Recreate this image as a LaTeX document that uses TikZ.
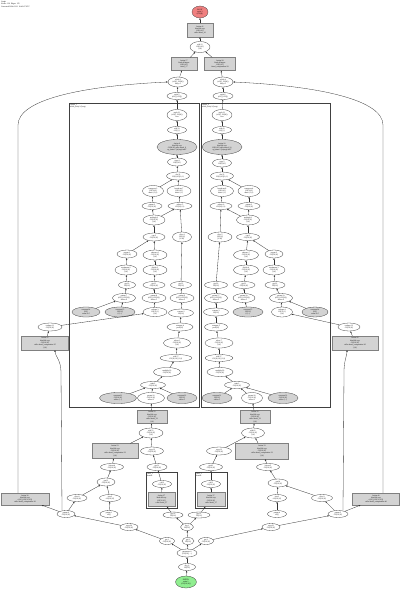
\documentclass[tikz,border=0pt]{standalone}
\usepackage{fontspec}
\setmainfont{Liberation Serif}
\usetikzlibrary{shapes.geometric,arrows.meta}
\definecolor{nred}{HTML}{F08080}
\definecolor{ngreen}{HTML}{90EE90}
\definecolor{ngray}{HTML}{D3D3D3}
\begin{document}
\begin{tikzpicture}[x=1pt,y=-1pt,
  every node/.style={font=\fontsize{1.9}{2.3}\selectfont, align=center, inner sep=0pt},
  el/.style 2 args={ellipse, draw=black!75, line width=0.3pt, minimum width=#1, minimum height=#2},
  gel/.style 2 args={ellipse, draw=black!75, fill=ngray, line width=0.3pt, minimum width=#1, minimum height=#2},
  gbox/.style 2 args={rectangle, draw=gray, fill=ngray, line width=0.3pt, minimum width=#1, minimum height=#2},
  conn/.style={draw=black!80, line width=0.3pt, -{Triangle[length=1.6pt,width=1.3pt]}},
  clus/.style={rectangle, draw=black!75, line width=0.75pt, anchor=north west},
  cllab/.style={anchor=north west, align=left}]
\fill[white] (0,0) rectangle (400,589);
\useasboundingbox (0,0) rectangle (400,589);
% header
\node[anchor=north west, align=left] (hdr) at (1,1) {Graph\\Nodes: 136 \ Edges: 152\\Generated 2024-03-11 10:42:07 UTC};
% clusters
\node[clus, minimum width=130, minimum height=304] (cl1) at (69,103) {};
\node[cllab] (cl1l) at (70,104) {cluster\_1\\while\_body.1 (loop)};
\node[clus, minimum width=129, minimum height=304] (cl2) at (201,103) {};
\node[cllab] (cl2l) at (202,104) {cluster\_2\\while\_body.2 (loop)};
\node[clus, minimum width=31, minimum height=36] (sc1) at (146,472) {};
\node[cllab] (sc1l) at (147,473) {cond\_1\\branch};
\node[clus, minimum width=32, minimum height=36] (sc2) at (195,472) {};
\node[cllab] (sc2l) at (196,473) {cond\_2\\branch};
% top
\node[el={16}{12}, fill=nred] (n1) at (200,12) {ROOT\\tuple.3\\(f32[8])};
\node[gbox={26}{14}] (n2) at (200,30) {fusion.41\\kind=kLoop\\f32[8,16]\\calls=fused\_41};
\node[el={20}{11}] (n3) at (200,47) {add.12\\f32[8,16]\\\{1,0\}};
\node[gbox={26}{13}] (n4) at (184,64) {fusion.17\\kind=kOutput\\f32[8,16]\\fused\_17};
\node[gbox={31}{13}] (n5) at (220,64) {fusion.18\\kind=kOutput\\f32[8,16]\\fused\_computation.18};
\node[el={20}{10}] (n6) at (178,82) {while.3\\(s32[], f32[8])\\body=1};
\node[el={20}{10}] (n7) at (223,82) {while.4\\(s32[], f32[8])\\body=2};
\node[el={20}{7}] (n8) at (177,96) {tuple.5\\(s32[], f32[])};
\node[el={20}{7}] (n9) at (223,96) {tuple.6\\(s32[], f32[])};
% left cluster
\node[el={20}{11}] (L1) at (177,115) {tuple.21\\(s32[], f32[8])\\root};
\node[el={19}{7}] (L2) at (177,130) {add.33\\s32[] \{\}};
\node[gel={40}{15}] (L3) at (177,147) {fusion.9\\kind=kLoop\\f32[8,16] calls=fused\_9\\op\_name="jit(step)/mul"};
\node[el={19}{8}] (L4) at (177,162) {copy.4\\f32[8,16]};
\node[el={23}{8}] (L5) at (178,176) {dot.12\\f32[8,16]\{1,0\}};
\node[el={21}{11}] (L6) at (153,191) {transpose.3\\f32[16,8]\\dims=\{1,0\}};
\node[el={24}{11}] (L7) at (179,191) {broadcast.7\\f32[8,16]\\dims=\{1\}};
\node[el={20}{7}] (L8) at (152,206) {param.2\\f32[16,16]};
\node[el={24}{7}] (L9) at (180,206) {reduce.5\\f32[16] \{0\}};
\node[el={22}{10}] (L10) at (154,220) {multiply.8\\f32[16,16]\\\{1,0\}};
\node[el={22}{8}] (L11) at (154,237) {exp.2\\f32[16,16]};
\node[el={19}{10}] (L12) at (182,237) {slice.4\\f32[16]\\{}[0:16]};
\node[el={20}{8}] (L13) at (127,254) {negate.1\\f32[16,16]};
\node[el={24}{10}] (L14) at (155,255) {subtract.6\\f32[16,16]\\\{1,0\}};
\node[el={22}{10}] (L15) at (126,270) {maximum.2\\f32[16,16]\\\{1,0\}};
\node[el={24}{10}] (L16) at (155,270) {divide.3\\f32[16,16]\\\{1,0\}};
\node[el={17}{7}] (L17) at (127,285) {gte.10\\f32[16]};
\node[el={22}{7}] (L18) at (154,285) {gte.11\\f32[16,16]};
\node[el={21}{7}] (L19) at (181,285) {gte.12\\f32[16]};
\node[el={23}{9}] (L20) at (124,298) {param.7\\(s32[], f32[16])\\index=0};
\node[el={24}{9}] (L21) at (154,298) {param.8\\(s32[], f32[16])\\index=1};
\node[el={24}{9}] (L22) at (182,298) {param.9\\(s32[], f32[16])\\index=2};
\node[gel={28}{10}] (L23) at (86,312) {constant.14\\f32[]\\value=0.5};
\node[gel={30}{10}] (L24) at (120,312) {constant.15\\f32[16]\\\{0,...\}};
\node[el={24}{9}] (L25) at (155,312) {reshape.3\\f32[16,1]\\\{1,0\}};
\node[el={25}{8}] (L26) at (181,313) {convert.2\\f32[16]};
\node[el={26}{8}] (L27) at (180,327) {compare.4\\pred[16]};
\node[el={27}{10}] (L28) at (177,343) {select.6\\f32[16,16]\\\{1,0\}};
\node[el={32}{7}] (L29) at (176,358) {add.17\\f32[16,16] \{1,0\}};
\node[el={27}{9}] (L30) at (167,372) {multiply.19\\f32[16,16]};
\node[el={25}{7}] (L31) at (153,385) {tanh.2\\f32[16,16]};
\node[gel={37}{11}] (L32) at (118,398) {constant.21\\f32[16,16]\\value=\{...\}};
\node[el={27}{11}] (L33) at (151,398) {param.10\\f32[16,16]\\index=3};
\node[gel={30}{11}] (L34) at (182,398) {constant.22\\f32[16]\\value=1};
% right cluster
\node[el={20}{11}] (R1) at (222,115) {tuple.31\\(s32[], f32[8])\\root};
\node[el={19}{7}] (R2) at (222,130) {add.43\\s32[] \{\}};
\node[gel={40}{15}] (R3) at (222,147) {fusion.10\\kind=kLoop\\f32[8,16] calls=fused\_10\\op\_name="jit(step)/add"};
\node[el={19}{8}] (R4) at (222,163) {copy.5\\f32[8,16]};
\node[el={23}{8}] (R5) at (222,176) {dot.13\\f32[8,16]\{1,0\}};
\node[el={23}{11}] (R6) at (222,191) {broadcast.8\\f32[8,16]\\dims=\{1\}};
\node[el={22}{11}] (R7) at (249,191) {transpose.4\\f32[16,8]\\dims=\{1,0\}};
\node[el={22}{7}] (R8) at (221,206) {reduce.6\\f32[16] \{0\}};
\node[el={22}{7}] (R9) at (249,206) {param.3\\f32[16,16]};
\node[el={23}{10}] (R10) at (248,220) {multiply.9\\f32[16,16]\\\{1,0\}};
\node[el={24}{10}] (R11) at (220,237) {slice.5\\f32[16]\\{}[0:16]};
\node[el={23}{7}] (R12) at (248,237) {exp.3\\f32[16,16]};
\node[el={25}{10}] (R13) at (246,255) {subtract.7\\f32[16,16]\\\{1,0\}};
\node[el={18}{8}] (R14) at (274,254) {negate.2\\f32[16,16]};
\node[el={25}{10}] (R15) at (246,270) {divide.4\\f32[16,16]\\\{1,0\}};
\node[el={22}{10}] (R16) at (274,270) {maximum.3\\f32[16,16]\\\{1,0\}};
\node[el={23}{7}] (R17) at (216,285) {gte.20\\f32[16]};
\node[el={22}{7}] (R18) at (244,285) {gte.21\\f32[16,16]};
\node[el={20}{7}] (R19) at (275,285) {gte.22\\f32[16]};
\node[el={23}{9}] (R20) at (216,298) {param.17\\(s32[], f32[16])\\index=2};
\node[el={22}{9}] (R21) at (244,298) {param.18\\(s32[], f32[16])\\index=1};
\node[el={23}{9}] (R22) at (281,298) {param.19\\(s32[], f32[16])\\index=0};
\node[el={25}{8}] (R23) at (216,312) {convert.3\\f32[16]};
\node[gel={30}{10}] (R24) at (248,312) {constant.25\\f32[16]\\\{0,...\}};
\node[el={21}{10}] (R25) at (282,312) {reshape.4\\f32[16,1]\\\{1,0\}};
\node[gel={26}{10}] (R26) at (315,312) {constant.24\\f32[]\\value=0.5};
\node[el={23}{8}] (R27) at (216,327) {compare.5\\pred[16]};
\node[el={28}{10}] (R28) at (219,343) {select.7\\f32[16,16]\\\{1,0\}};
\node[el={28}{7}] (R29) at (219,358) {add.27\\f32[16,16] \{1,0\}};
\node[el={26}{9}] (R30) at (220,372) {multiply.29\\f32[16,16]};
\node[el={25}{7}] (R31) at (237,385) {tanh.3\\f32[16,16]};
\node[gel={30}{11}] (R32) at (217,398) {constant.31\\f32[16]\\value=1};
\node[el={21}{11}] (R33) at (252,398) {param.20\\f32[16,16]\\index=3};
\node[gel={30}{11}] (R34) at (283,398) {constant.32\\f32[16,16]\\value=\{...\}};
% outer side nodes
\node[el={24}{8}] (OL1) at (50,327) {reshape.11\\f32[16,16]};
\node[gbox={47}{14}] (OL2) at (45,343) {fusion.25\\kind=kLoop\\f32[16,16]\\calls=fused\_computation.25\\\{1,0\}};
\node[el={22}{8}] (OR1) at (349,327) {reshape.12\\f32[16,16]};
\node[gbox={46}{14}] (OR2) at (355,343) {fusion.26\\kind=kLoop\\f32[16,16]\\calls=fused\_computation.26\\\{1,0\}};
% below left
\node[gbox={30}{13}] (B1) at (152,417) {fusion.22\\kind=kLoop\\f32[16,16]\\calls=fused\_22\\\{1,0\}};
\node[el={24}{10}] (B2) at (151,433) {add.51\\f32[16,16]\\\{1,0\}};
\node[gbox={46}{15}] (B3) at (115,451) {fusion.23\\kind=kLoop\\f32[16,16]\\calls=fused\_computation.23\\\{1,0\}};
\node[el={23}{8}] (B4) at (152,451) {copy.12\\f32[16,16]};
\node[el={23}{7}] (B5) at (112,467) {bitcast.4\\f32[16,16]};
\node[el={20}{7}] (B6) at (157,467) {gte.31\\f32[16,16]};
\node[el={19}{7}] (B7) at (162,484) {call.2\\f32[16,16]};
\node[gbox={27}{14}] (B8) at (161.5,499.5) {fusion.27\\kind=kLoop\\f32[16,16]\\calls=fused\_27};
\node[el={18}{8}] (B9) at (106,482) {pad.3\\f32[16,16]};
\node[el={20}{7}] (B10) at (77,498) {slice.8\\f32[16,16]};
\node[el={21}{7}] (B11) at (110,498) {iota.2\\s32[16,16]};
\node[el={18}{7}] (B12) at (66,514) {param.0\\f32[16,16]};
\node[el={18}{7}] (B13) at (109,514) {param.1\\s32[]};
\node[gbox={48}{12}] (LL) at (25,499) {fusion.30\\kind=kLoop\\(s32[], f32[16,16])\\calls=fused\_computation.30};
% below right
\node[gbox={30}{13}] (C1) at (255,417) {fusion.32\\kind=kLoop\\f32[16,16]\\calls=fused\_32\\\{1,0\}};
\node[el={23}{10}] (C2) at (253,433) {add.61\\f32[16,16]\\\{1,0\}};
\node[el={25}{8}] (C3) at (219,451) {copy.13\\f32[16,16]};
\node[gbox={53}{16}] (C4) at (262,451) {fusion.33\\kind=kLoop\\f32[16,16]\\calls=fused\_computation.33\\\{1,0\}};
\node[el={23}{7}] (C5) at (211,467) {gte.41\\f32[16,16]};
\node[el={23}{7}] (C6) at (268,467) {bitcast.5\\f32[16,16]};
\node[el={19}{7}] (C7) at (211,484) {call.3\\f32[16,16]};
\node[gbox={28}{14}] (C8) at (211,499.5) {fusion.37\\kind=kLoop\\f32[16,16]\\calls=fused\_37};
\node[el={20}{8}] (C9) at (278,483) {pad.4\\f32[16,16]};
\node[el={19}{7}] (C10) at (277,498) {iota.3\\s32[16,16]};
\node[el={21}{7}] (C11) at (322,498) {slice.9\\f32[16,16]};
\node[el={19}{7}] (C12) at (277,514) {param.4\\s32[]};
\node[el={20}{7}] (C13) at (338,514) {param.5\\f32[16,16]};
\node[gbox={47}{12}] (LR) at (376,499) {fusion.40\\kind=kLoop\\(s32[], f32[16,16])\\calls=fused\_computation.40};
% bottom
\node[el={18}{7}] (D1) at (129,527) {copy.20\\f32[16,16]};
\node[el={18}{7}] (D2) at (271,527) {copy.21\\f32[16,16]};
\node[el={20}{6}] (F1) at (173,515) {gte.50\\f32[16]};
\node[el={22}{6}] (F2) at (199,515) {gte.51\\f32[16]};
\node[el={13}{7}] (G1) at (187,527) {log.1\\f32[16]};
\node[el={15}{7}] (E1) at (167,541) {gte.1\\f32[16,16]};
\node[el={12}{7}] (E2) at (188,541) {gte.2\\f32[16]};
\node[el={15}{7}] (E3) at (206,541) {gte.3\\f32[16,16]};
\node[el={20}{8}] (H1) at (187,553) {parameter.0\\(f32[16], ...)};
\node[el={17}{7}] (H2) at (187,567) {Arg\_0\\f32[16]};
\node[el={21}{12}, fill=ngreen] (G) at (186,582) {ENTRY\\main.1\\(f32[16,16])};
% edges
\foreach \a/\b in {n2/n1, n3/n2, n4/n3, n5/n3, n6/n4, n7/n5, n8/n6, n9/n7,
  L1/n8, L2/L1, L3/L2, L4/L3, L5/L4, L6/L5, L7/L5, L8/L6, L9/L7, L10/L8, L10/L9, L11/L10, L12/L9,
  L13/L11, L14/L11, L15/L13, L16/L14, L17/L15, L18/L16, L19/L12, L20/L17, L21/L18, L22/L19,
  L23/L20, L24/L20, L25/L21, L26/L22, L27/L26, L28/L27, L29/L28, L30/L29, L31/L30,
  L32/L31, L33/L31, L34/L31, OL2/OL1, OL1/L25,
  R1/n9, R2/R1, R3/R2, R4/R3, R5/R4, R6/R5, R7/R5, R8/R6, R9/R7, R10/R8, R10/R9, R11/R8, R12/R10,
  R13/R12, R14/R12, R15/R13, R16/R14, R17/R11, R18/R15, R19/R16, R20/R17, R21/R18, R22/R19,
  R23/R20, R24/R21, R25/R22, R26/R22, R27/R23, R28/R27, R29/R28, R30/R29, R31/R30,
  R32/R31, R33/R31, R34/R31, OR2/OR1, OR1/R25,
  B1/L33, B2/B1, B3/B2, B4/B2, B5/B3, B6/B4, B7/B6, B8/B7, B9/B5, B10/B9, B11/B9, B12/B10,
  B13/B11, B12/LL, D1/B12, E1/D1, F1/B8,
  C1/R33, C2/C1, C3/C2, C4/C2, C5/C3, C6/C4, C7/C5, C8/C7, C9/C6, C10/C9, C11/C9, C12/C10,
  C13/C11, C13/LR, D2/C13, E3/D2, F2/C8,
  G1/F1, G1/F2, E2/G1, H1/E1, H1/E2, H1/E3, H2/H1, G/H2}
  \draw[conn] (\a) -- (\b);
% long connectors
\draw[conn] ([xshift=-7pt]LL.north) -- (18,125) .. controls (18,100) and (80,86) .. (n6.west);
\draw[conn] ([xshift=7pt]LR.north) -- (383,125) .. controls (383,100) and (320,86) .. (n7.east);
\draw[conn] ([xshift=-4pt]B12.north) -- (61,372) .. controls (61,360) and (55,356) .. ([xshift=10pt]OL2.south);
\draw[conn] ([xshift=5pt]C13.north) -- (344,372) .. controls (344,360) and (347,356) .. ([xshift=-8pt]OR2.south);
\end{tikzpicture}
\end{document}
